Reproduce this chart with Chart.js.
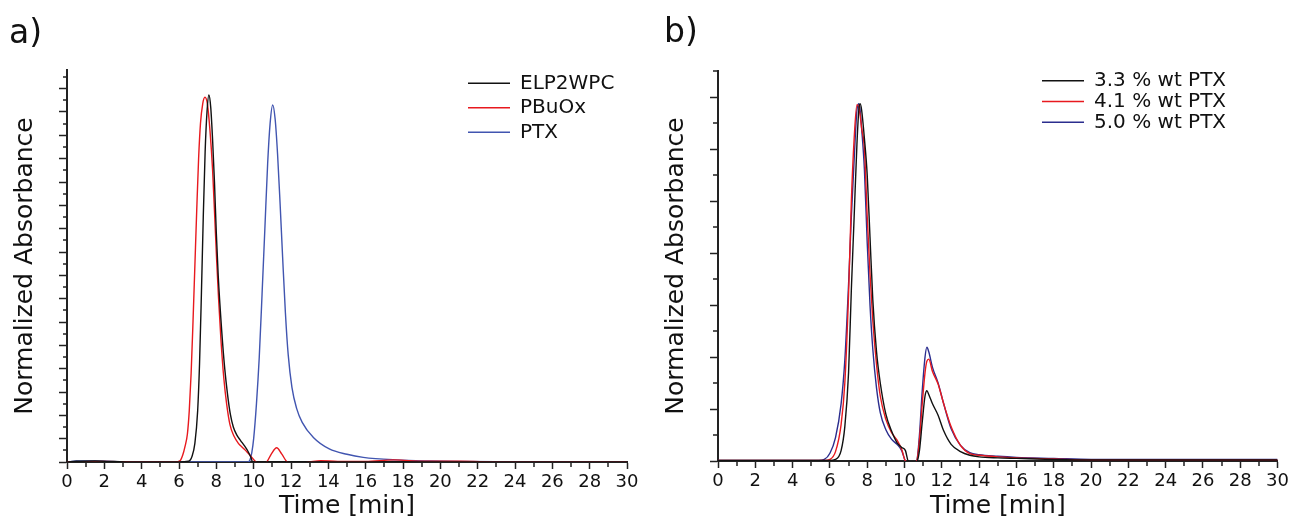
<!DOCTYPE html>
<html><head><meta charset="utf-8">
<script src="https://cdn.jsdelivr.net/npm/chart.js@4"></script>
<style>
html,body{margin:0;padding:0;background:#fff;}
#wrap{position:relative;width:1292px;height:519px;overflow:hidden;background:#fff;}
canvas{position:absolute;top:0;}
#ca{left:0;}
#cb{left:646px;}
</style></head><body>
<div id="wrap"><canvas id="ca" width="646" height="519"></canvas><canvas id="cb" width="646" height="519"></canvas></div>
<script>
// ---------- Panel a) data ----------
const timeELP = [0, 0.5, 1.5, 2.5, 4, 6, 6.5, 6.7, 6.85, 7.0, 7.1, 7.2, 7.3, 7.4, 7.5, 7.6, 7.7, 7.8, 7.9, 8.0, 8.1, 8.29, 8.45, 8.6, 8.75, 8.91, 9.1, 9.3, 9.5, 9.7, 9.85, 9.95, 12, 20, 30];
const absELP  = [0, 0.003, 0.004, 0.002, 0, 0, 0.003, 0.025, 0.08, 0.22, 0.42, 0.72, 1.05, 1.33, 1.5, 1.573, 1.52, 1.38, 1.2, 0.98, 0.8, 0.56, 0.4, 0.29, 0.205, 0.15, 0.115, 0.092, 0.07, 0.045, 0.02, 0, 0, 0, 0];

const timePBuOx = [0, 2, 4, 5.8, 6.05, 6.2, 6.32, 6.45, 6.55, 6.65, 6.75, 6.85, 6.95, 7.05, 7.15, 7.27, 7.39, 7.52, 7.66, 7.8, 7.92, 8.02, 8.12, 8.25, 8.4, 8.55, 8.73, 8.95, 9.18, 9.4, 9.63, 9.85, 10.13, 10.4, 10.7, 10.95, 11.23, 11.5, 11.8, 12.3, 13.0, 13.6, 14.5, 16, 17.5, 18.5, 21, 24, 30];
const absPBuOx  = [0, 0.002, 0, 0, 0.005, 0.03, 0.066, 0.12, 0.22, 0.38, 0.6, 0.84, 1.08, 1.3, 1.45, 1.535, 1.563, 1.535, 1.42, 1.25, 1.04, 0.86, 0.7, 0.52, 0.36, 0.25, 0.16, 0.11, 0.08, 0.062, 0.044, 0.025, 0, -0.01, 0, 0.035, 0.061, 0.035, 0, -0.008, 0, 0.006, 0.002, 0.002, 0.009, 0.005, 0.003, 0, 0];

const timePTX = [0, 0.5, 1.5, 3, 5, 9.7, 9.8, 9.9, 10.0, 10.15, 10.3, 10.45, 10.6, 10.75, 10.88, 11.02, 11.15, 11.28, 11.42, 11.55, 11.7, 11.85, 12.05, 12.3, 12.6, 13.2, 14.05, 15.0, 15.87, 17.66, 19.45, 21, 23, 30];
const absPTX  = [0, 0.004, 0.004, 0.001, 0, 0, 0.008, 0.04, 0.1, 0.25, 0.45, 0.72, 1.0, 1.28, 1.45, 1.53, 1.47, 1.32, 1.1, 0.88, 0.64, 0.46, 0.32, 0.23, 0.17, 0.105, 0.056, 0.033, 0.02, 0.009, 0.0043, 0.002, 0.001, 0.0005];

// ---------- Panel b) data ----------
const timeB = [0, 2, 4, 5.4, 5.7, 6.0, 6.3, 6.6, 6.8, 7.0, 7.15, 7.3, 7.45, 7.55, 7.62, 7.7, 7.85, 8.0, 8.15, 8.3, 8.5, 8.7, 9.0, 9.3, 9.6, 9.85, 10.05, 10.2, 10.5, 10.65, 10.8, 10.95, 11.1, 11.2, 11.3, 11.5, 11.8, 12.1, 12.5, 13.0, 13.5, 14, 15, 16, 18, 20, 24, 30];
const abs33 = [0.001, 0.001, 0.001, 0.001, 0.001, 0.001, 0.003, 0.02, 0.066, 0.17, 0.33, 0.47, 0.61, 0.675, 0.687, 0.675, 0.62, 0.55, 0.43, 0.31, 0.21, 0.15, 0.09, 0.058, 0.035, 0.026, 0.02, 0.0, -0.003, -0.002, 0.02, 0.075, 0.125, 0.135, 0.128, 0.11, 0.088, 0.058, 0.032, 0.018, 0.011, 0.008, 0.006, 0.005, 0.003, 0.002, 0.002, 0.002];
const abs41 = [0.001, 0.001, 0.001, 0.001, 0.001, 0.003, 0.018, 0.07, 0.15, 0.32, 0.5, 0.62, 0.685, 0.68, 0.665, 0.64, 0.6, 0.47, 0.36, 0.27, 0.185, 0.125, 0.08, 0.055, 0.04, 0.022, 0.0, -0.002, -0.002, 0.0, 0.04, 0.11, 0.17, 0.192, 0.196, 0.172, 0.148, 0.11, 0.066, 0.03, 0.014, 0.011, 0.008, 0.006, 0.004, 0.002, 0.002, 0.002];
const abs50 = [0.001, 0.001, 0.001, 0.001, 0.003, 0.015, 0.045, 0.11, 0.194, 0.34, 0.47, 0.58, 0.675, 0.687, 0.675, 0.64, 0.56, 0.42, 0.3, 0.215, 0.14, 0.093, 0.06, 0.042, 0.032, 0.02, 0.0, -0.002, -0.002, 0.0, 0.05, 0.135, 0.2, 0.219, 0.21, 0.18, 0.15, 0.11, 0.062, 0.03, 0.016, 0.012, 0.009, 0.007, 0.005, 0.003, 0.003, 0.003];

// ---------- Ticks ----------
const xMajorTicks = [0, 2, 4, 6, 8, 10, 12, 14, 16, 18, 20, 22, 24, 26, 28, 30];
const xMinorTicks = [1, 3, 5, 7, 9, 11, 13, 15, 17, 19, 21, 23, 25, 27, 29];
const yMajorTicksA = [0, 0.1, 0.2, 0.3, 0.4, 0.5, 0.6, 0.7, 0.8, 0.9, 1.0, 1.1, 1.2, 1.3, 1.4, 1.5, 1.6];
const yMinorTicksA = [0.05, 0.15, 0.25, 0.35, 0.45, 0.55, 0.65, 0.75, 0.85, 0.95, 1.05, 1.15, 1.25, 1.35, 1.45, 1.55, 1.65];
const yMajorTicksB = [0, 0.1, 0.2, 0.3, 0.4, 0.5, 0.6, 0.7];
const yMinorTicksB = [0.05, 0.15, 0.25, 0.35, 0.45, 0.55, 0.65, 0.75];

const labelsA = ['ELP2WPC', 'PBuOx', 'PTX'];
const labelsB = ['3.3 % wt PTX', '4.1 % wt PTX', '5.0 % wt PTX'];

const AXIS = '#222222';
const TXT = '#111111';
Chart.defaults.font.family = "'DejaVu Sans', sans-serif";
Chart.defaults.color = TXT;

function pts(ts, ys) { return ts.map((t, i) => ({x: t, y: ys[i]})); }

function ds(label, ts, ys, color) {
  return {label, data: pts(ts, ys), borderColor: color, backgroundColor: color, borderWidth: 1.4,
    pointRadius: 0, fill: false, cubicInterpolationMode: 'monotone'};
}

function makeChart(id, cfg) {
  const minorTicks = {
    id: 'minorTicks',
    afterDraw(chart) {
      const ctx = chart.ctx, xs = chart.scales.x, ys = chart.scales.y;
      ctx.save();
      ctx.strokeStyle = AXIS; ctx.lineWidth = 1.5;
      ctx.beginPath();
      xMinorTicks.forEach(v => { const px = Math.round(xs.getPixelForValue(v)); ctx.moveTo(px, xs.top); ctx.lineTo(px, xs.top + cfg.xMinorLen); });
      cfg.yMinor.forEach(v => { const py = Math.round(ys.getPixelForValue(v)); ctx.moveTo(ys.right, py); ctx.lineTo(ys.right - cfg.yMinorLen, py); });
      ctx.stroke();
      ctx.restore();
    }
  };
  const legendPlacer = {
    id: 'legendPlacer',
    afterLayout(chart) {
      const lg = chart.legend; if (!lg) return;
      const pad = lg.options.labels.padding;
      lg.left = cfg.legX - pad; lg.top = cfg.legY - pad;
      lg.right = lg.left + lg.width; lg.bottom = lg.top + lg.height;
    }
  };
  return new Chart(document.getElementById(id), {
    type: 'line',
    data: {datasets: cfg.datasets},
    options: {
      responsive: false, animation: false, events: [],
      layout: {autoPadding: false, padding: {left: cfg.padL, right: cfg.padR, top: 0, bottom: 0}},
      plugins: {
        tooltip: {enabled: false},
        title: {display: true, text: cfg.panel, align: 'start', color: TXT,
          font: {size: 33, weight: 'normal', lineHeight: 1.2}, padding: {top: cfg.tPadT, bottom: cfg.tPadB}},
        legend: {display: true, position: 'chartArea', align: 'start',
          labels: {usePointStyle: true, pointStyle: 'line', pointStyleWidth: 42, boxHeight: 20,
            font: {size: 20}, color: TXT, padding: cfg.legPad}}
      },
      scales: {
        x: {type: 'linear', min: 0, max: 30,
          afterBuildTicks: s => { s.ticks = xMajorTicks.map(v => ({value: v})); },
          afterFit: s => { s.height = cfg.xHeight; },
          grid: {drawOnChartArea: false, drawTicks: true, tickLength: 7, tickWidth: 1.5, tickColor: AXIS},
          border: {display: true, color: AXIS, width: 2},
          ticks: {font: {size: 18}, color: TXT, padding: 3, maxRotation: 0, autoSkip: false, callback: v => String(v)},
          title: {display: true, text: 'Time [min]', color: TXT, font: {size: 25, lineHeight: 1}, padding: {top: 0, bottom: 0}}
        },
        y: {type: 'linear', min: 0, max: cfg.yMax,
          afterBuildTicks: s => { s.ticks = cfg.yMajor.map(v => ({value: v})); },
          afterFit: s => { s.width = cfg.yWidth; },
          grid: {drawOnChartArea: false, drawTicks: true, tickLength: 8, tickWidth: 1.5, tickColor: AXIS},
          border: {display: true, color: AXIS, width: 2},
          ticks: {display: false},
          title: {display: true, text: 'Normalized Absorbance', color: TXT, font: {size: 25, lineHeight: 1}, padding: {top: cfg.yTitlePad, bottom: 0}}
        }
      }
    },
    plugins: [minorTicks, legendPlacer]
  });
}

makeChart('ca', {
  panel: 'a)', padL: 9, padR: 19, tPadT: 14.4, tPadB: 16, xHeight: 57, yWidth: 58, yTitlePad: 3.5,
  yMax: 1.68, yMajor: yMajorTicksA, yMinor: yMinorTicksA, xMinorLen: 5, yMinorLen: 4,
  legX: 468, legY: 73.3, legPad: 4.5,
  datasets: [
    ds(labelsA[0], timeELP, absELP, '#111111'),
    ds(labelsA[1], timePBuOx, absPBuOx, '#e8191e'),
    ds(labelsA[2], timePTX, absPTX, '#4155b0')
  ]
});

makeChart('cb', {
  panel: 'b)', padL: 18, padR: 14, tPadT: 13.4, tPadB: 18, xHeight: 58, yWidth: 54, yTitlePad: 0.2,
  yMax: 0.75, yMajor: yMajorTicksB, yMinor: yMinorTicksB, xMinorLen: 5, yMinorLen: 5,
  legX: 396, legY: 70.7, legPad: 0.8,
  datasets: [
    ds(labelsB[0], timeB, abs33, '#111111'),
    ds(labelsB[1], timeB, abs41, '#e8191e'),
    ds(labelsB[2], timeB, abs50, '#2b2d8e')
  ]
});
</script>
</body></html>
